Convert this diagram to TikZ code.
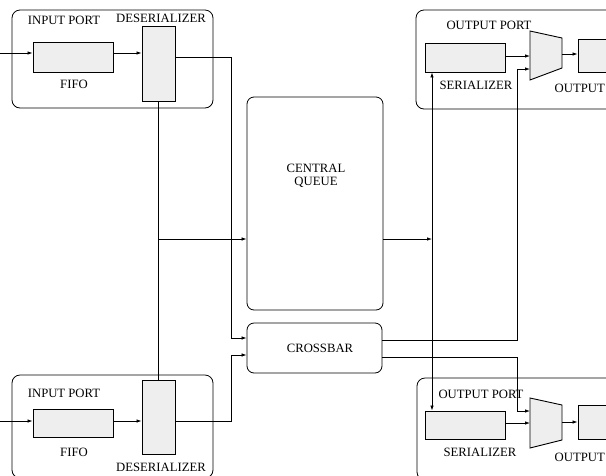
\documentclass[tikz,border=0pt]{standalone}
\usepackage{fontspec}
\setmainfont{Liberation Serif}
\usetikzlibrary{arrows.meta}
\begin{document}
\begin{tikzpicture}[x=1pt,y=-1pt,
  port/.style={draw, rounded corners=8pt, line width=0.8pt, inner sep=0pt},
  unit/.style={draw, fill=gray!13, line width=0.9pt, inner sep=0pt},
  blk/.style={draw, rounded corners=7pt, line width=0.8pt, inner sep=0pt},
  lbl/.style={font=\fontsize{12.7}{13}\selectfont, inner sep=0pt},
  arr/.style={-{Latex[length=5pt,width=3.5pt]}},
  wire/.style={line width=0.75pt}]
\fill[white] (0,0) rectangle (606,475);
\clip (0,0) rectangle (606,475);

% port boxes
\node[port, minimum width=201pt, minimum height=98pt] (ip1) at (112.5,59) {};
\node[port, minimum width=201pt, minimum height=103pt] (ip2) at (112.5,426.5) {};
\node[port, minimum width=224pt, minimum height=99pt] (op1) at (528,59.5) {};
\node[port, minimum width=223pt, minimum height=102pt] (op2) at (528.5,429) {};

% central blocks
\node[blk, minimum width=136pt, minimum height=213pt] (cq) at (315,203.5) {};
\node[blk, minimum width=135pt, minimum height=50pt] (xb) at (314.5,348) {};
\node[lbl, align=center] (cqt) at (316,176) {CENTRAL\\QUEUE};
\node[lbl] (xbt) at (320,348) {CROSSBAR};

% input units
\node[unit, minimum width=80pt, minimum height=30pt] (fifo1) at (73,57) {};
\node[unit, minimum width=33pt, minimum height=75pt] (des1) at (158.5,63.5) {};
\node[unit, minimum width=80pt, minimum height=28pt] (fifo2) at (73,423) {};
\node[unit, minimum width=33pt, minimum height=74pt] (des2) at (158.5,417) {};

% output units
\node[unit, minimum width=80pt, minimum height=29pt] (ser1) at (465,57.5) {};
\node[unit, minimum width=80pt, minimum height=28pt] (ser2) at (465,425) {};
\node[unit, minimum width=62pt, minimum height=33pt] (out1) at (609,55.5) {};
\node[unit, minimum width=62pt, minimum height=34pt] (out2) at (609,422) {};

% multiplexers
\draw[unit] (530,31) -- (562,38) -- (562,68) -- (530,80) -- cycle;
\draw[unit] (530,398) -- (562,405) -- (562,440) -- (530,448) -- cycle;
\coordinate (m1in1) at (530,56);
\coordinate (m1in2) at (530,69);
\coordinate (m1out) at (562,54);
\coordinate (m2in1) at (530,411);
\coordinate (m2in2) at (530,423);
\coordinate (m2out) at (562,422);

% labels
\node[lbl] (ipt1) at (64,20) {INPUT PORT};
\node[lbl] (dst1) at (161,18) {DESERIALIZER};
\node[lbl] (fft1) at (74,84) {FIFO};
\node[lbl] (ipt2) at (64,393) {INPUT PORT};
\node[lbl] (fft2) at (74,452) {FIFO};
\node[lbl] (dst2) at (161,467) {DESERIALIZER};
\node[lbl] (opt1) at (489,25) {OUTPUT PORT};
\node[lbl] (srt1) at (476,85) {SERIALIZER};
\node[lbl, anchor=east] (ot1) at (605,88) {OUTPUT};
\node[lbl] (opt2) at (481,394) {OUTPUT PORT};
\node[lbl] (srt2) at (480,452) {SERIALIZER};
\node[lbl, anchor=east] (ot2) at (605,457) {OUTPUT};

% coordinates
\coordinate (in1) at (0,53);
\coordinate (in2) at (0,421);
\coordinate (bus) at (432,239);

% input side wiring
\draw[wire,arr] (in1) -- (in1 -| fifo1.west);
\draw[wire,arr] (fifo1.east |- in1) -- (in1 -| des1.west);
\draw[wire,arr] (in2) -- (in2 -| fifo2.west);
\draw[wire,arr] (fifo2.east |- in2) -- (in2 -| des2.west);
\draw[wire] (des1.south) -- (des2.north);
\draw[wire,arr] (des1.south |- 0,239) -- (cq.west |- 0,239);
\draw[wire,arr] (des1.east |- 0,57) -- (231,57) -- (231,338) -- (xb.west |- 0,338);
\draw[wire,arr] (des2.east |- 0,421) -- (231,421) -- (231,355) -- (xb.west |- 0,355);

% output side wiring
\draw[wire,arr] (cq.east |- bus) -- (bus);
\draw[wire,arr] (bus) -- (ser1.south -| bus);
\draw[wire,arr] (bus) -- (ser2.north -| bus);
\draw[wire,arr] (xb.east |- 0,340) -- (517,340) -- (517,69) -- (m1in2);
\draw[wire,arr] (xb.east |- 0,357) -- (517,357) -- (517,411) -- (m2in1);
\draw[wire,arr] (ser1.east |- m1in1) -- (m1in1);
\draw[wire,arr] (m1out) -- (out1.west |- m1out);
\draw[wire,arr] (ser2.east |- m2in2) -- (m2in2);
\draw[wire,arr] (m2out) -- (out2.west |- m2out);
\end{tikzpicture}
\end{document}
